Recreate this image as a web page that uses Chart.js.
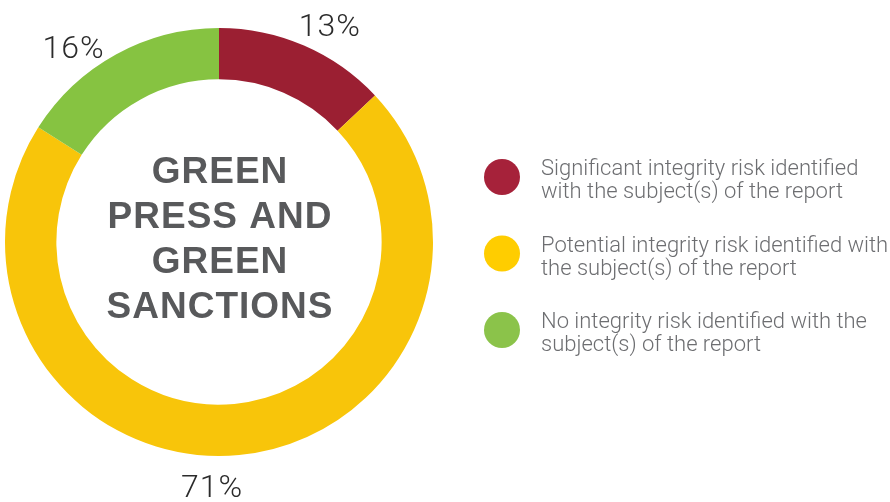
<!DOCTYPE html>
<html>
<head>
<meta charset="utf-8">
<script src="https://cdn.jsdelivr.net/npm/chart.js@4"></script>
<style>
html,body{margin:0;padding:0;background:#fff;}
canvas{display:block;}
</style>
</head>
<body>
<canvas id="c" width="890" height="502"></canvas>
<script>
const categories = [
  "Significant integrity risk identified with the subject(s) of the report",
  "Potential integrity risk identified with the subject(s) of the report",
  "No integrity risk identified with the subject(s) of the report"
];
const legendLines = [
  ["Significant integrity risk identified", "with the subject(s) of the report"],
  ["Potential integrity risk identified with", "the subject(s) of the report"],
  ["No integrity risk identified with the", "subject(s) of the report"]
];
const values = [13, 71, 16];
const sliceColors = ["#9B1F32", "#F8C50A", "#86C341"];
const legendColors = ["#A6223A", "#FFCD00", "#8BC34A"];
const centerLines = ["GREEN", "PRESS AND", "GREEN", "SANCTIONS"];

const labelPlugin = {
  id: 'customLabels',
  afterDraw(chart, args, opts) {
    const ctx = chart.ctx;
    const meta = chart.getDatasetMeta(0);
    const first = meta.data[0];
    const cx = first.x, cy = first.y;
    const outer = first.outerRadius;
    ctx.save();
    // percentage labels
    ctx.fillStyle = '#2b2b2b';
    ctx.font = '300 32px Roboto, "Liberation Sans", sans-serif';
    ctx.textAlign = 'center';
    ctx.textBaseline = 'alphabetic';
    try { ctx.letterSpacing = '1px'; } catch(e) {}
    meta.data.forEach((arc, i) => {
      const mid = (arc.startAngle + arc.endAngle) / 2 + (opts.angleOffsets[i] || 0) * Math.PI / 180;
      const r = outer + opts.labelGap;
      const x = cx + r * Math.cos(mid);
      const y = cy + r * Math.sin(mid);
      ctx.fillText(values[i] + '%', x, y + 11.5);
    });
    // center text
    ctx.fillStyle = '#58595B';
    ctx.font = 'bold 37px "Liberation Sans", Arial, sans-serif';
    try { ctx.letterSpacing = '1px'; } catch(e) {}
    const lh = 45;
    centerLines.forEach((t, i) => {
      ctx.fillText(t, cx + 1, cy - 59 + i * lh);
    });
    try { ctx.letterSpacing = '0px'; } catch(e) {}
    // legend
    const lx = opts.legendX, ly = opts.legendY, gap = opts.legendGap;
    ctx.textAlign = 'left';
    ctx.font = '300 22px Roboto, "Liberation Sans", sans-serif';
    legendLines.forEach((lines, i) => {
      const yc = ly + i * gap;
      ctx.beginPath();
      ctx.fillStyle = legendColors[i];
      ctx.arc(lx, yc, 18, 0, Math.PI * 2);
      ctx.fill();
      ctx.fillStyle = '#6D6E71';
      lines.forEach((ln, j) => {
        ctx.fillText(ln, lx + 39, yc - 2 + j * 23);
      });
    });
    ctx.restore();
  }
};

new Chart(document.getElementById('c'), {
  type: 'doughnut',
  data: {
    labels: categories,
    datasets: [{
      data: values,
      backgroundColor: sliceColors,
      borderWidth: 0
    }]
  },
  options: {
    responsive: false,
    animation: false,
    cutout: '76%',
    layout: { padding: { left: 5, top: 28, right: 457, bottom: 46 } },
    plugins: {
      legend: { display: false },
      tooltip: { enabled: false },
      customLabels: {
        angleOffsets: [3.6, 7, -7.8],
        labelGap: 30,
        legendX: 502,
        legendY: 177,
        legendGap: 76.5
      }
    }
  },
  plugins: [labelPlugin]
});
</script>
</body>
</html>
